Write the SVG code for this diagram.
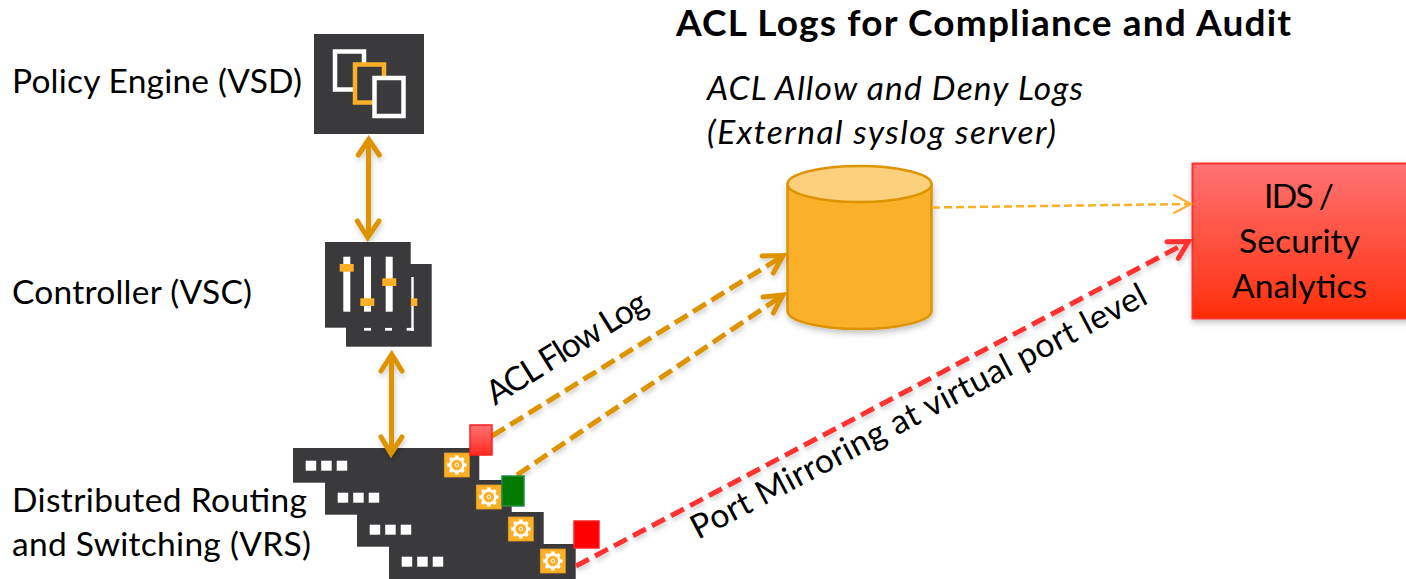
<svg xmlns="http://www.w3.org/2000/svg" xmlns:xlink="http://www.w3.org/1999/xlink" width="1406" height="579" viewBox="0 0 1406 579">
<style>
text{font-family:Lato,"Open Sans","Liberation Sans",sans-serif;fill:#000;font-size:33.5px}
.dark{fill:#3a393b}
.w{fill:#fff}
.o{fill:#fbb027}
.sq{fill:#3a393b;stroke-width:4.5}
.dot{fill:#fff}
.gb{fill:#fbb027;stroke:#e09a20;stroke-width:.8}
.conn{fill:none;stroke-linecap:butt}
.head{fill:none;stroke-linecap:round;stroke-linejoin:miter}
</style>
<defs>
<filter id="sh" x="-30%" y="-30%" width="160%" height="160%"><feDropShadow dx="1" dy="3" stdDeviation="3" flood-color="#000" flood-opacity=".25"/></filter>
<filter id="ln" filterUnits="userSpaceOnUse" x="0" y="0" width="1406" height="579"><feDropShadow dx="1" dy="3" stdDeviation="2.5" flood-color="#000" flood-opacity=".2"/></filter>
<linearGradient id="rg" x1="0" y1="0" x2="0" y2="1"><stop offset="0" stop-color="#ff7272"/><stop offset=".85" stop-color="#ff3a1c"/><stop offset="1" stop-color="#ff2a00"/></linearGradient>
<linearGradient id="tg" x1="0" y1="0" x2="0" y2="1"><stop offset="0" stop-color="#ff7272"/><stop offset="1" stop-color="#ff2a20"/></linearGradient>
<g id="gear">
<rect class="gb" x="0" y="0" width="25" height="24"/>
<g transform="translate(12.5 12)">
<circle r="6.6" fill="none" stroke="#fff" stroke-width="2.6"/>
<circle r="1.8" fill="none" stroke="#fff" stroke-width="1"/>
<g fill="#fff"><rect x="-1.6" y="-9.6" width="3.2" height="3.4"/><rect x="-1.6" y="6.2" width="3.2" height="3.4"/><rect x="-9.6" y="-1.6" width="3.4" height="3.2"/><rect x="6.2" y="-1.6" width="3.4" height="3.2"/><rect x="-1.6" y="-9.6" width="3.2" height="3.4" transform="rotate(45)"/><rect x="-1.6" y="-9.6" width="3.2" height="3.4" transform="rotate(135)"/><rect x="-1.6" y="-9.6" width="3.2" height="3.4" transform="rotate(225)"/><rect x="-1.6" y="-9.6" width="3.2" height="3.4" transform="rotate(315)"/></g>
</g>
</g>
<g id="dots"><rect class="dot" x="0" y="0" width="10.5" height="10"/><rect class="dot" x="15.5" y="0" width="10.5" height="10"/><rect class="dot" x="31" y="0" width="10.5" height="10"/></g>
</defs>

<text x="12" y="93" textLength="290">Policy Engine (VSD)</text>
<text x="12" y="304" textLength="240">Controller (VSC)</text>
<text x="12" y="512" textLength="295">Distributed Routing</text>
<text x="12" y="556" textLength="299">and Switching (VRS)</text>
<text x="676" y="36" style="font-size:37px;font-weight:700" textLength="615">ACL Logs for Compliance and Audit</text>
<text x="707" y="100" font-style="italic" textLength="376">ACL Allow and Deny Logs</text>
<text x="707" y="144" font-style="italic" textLength="349">(External syslog server)</text>

<g id="vsd">
<rect class="dark" x="314" y="34" width="110" height="100"/>
<rect class="sq" x="335" y="51.5" width="29" height="38" stroke="#fff"/>
<rect class="sq" x="355" y="64.5" width="29" height="38" stroke="#fbb027"/>
<rect class="sq" x="374.5" y="78" width="29" height="38" stroke="#fff"/>
</g>

<g id="vsc">
<rect class="dark" x="346" y="264" width="85.7" height="82.7"/>
<rect class="w" x="411.3" y="277" width="2.4" height="54"/>
<rect class="o" x="410.7" y="298.3" width="6.6" height="7.7"/>
<rect class="w" x="364" y="327.7" width="7" height="3"/>
<rect class="w" x="385" y="327.7" width="7" height="3"/>
<rect class="w" x="406.7" y="327.7" width="7" height="3"/>
<rect class="dark" x="325" y="242" width="85.7" height="85.7"/>
<rect class="w" x="343.3" y="256.7" width="7" height="55"/>
<rect class="w" x="364" y="256.7" width="7" height="55"/>
<rect class="w" x="385.7" y="256.7" width="7" height="55"/>
<rect class="o" x="339.7" y="264" width="14" height="7.7"/>
<rect class="o" x="360.3" y="298.3" width="14" height="7.7"/>
<rect class="o" x="382.3" y="278.3" width="14" height="7.7"/>
</g>

<g id="vrs">
<rect class="dark" x="293" y="448" width="186.3" height="34.7"/>
<use xlink:href="#dots" href="#dots" x="305.7" y="460.7"/>
<use xlink:href="#gear" href="#gear" x="444.3" y="453"/>
<rect class="dark" x="325" y="480" width="186.7" height="34.7"/>
<use xlink:href="#dots" href="#dots" x="337.7" y="492.7"/>
<use xlink:href="#gear" href="#gear" x="476.3" y="485"/>
<rect class="dark" x="357" y="512" width="186.7" height="34.7"/>
<use xlink:href="#dots" href="#dots" x="369.7" y="524.7"/>
<use xlink:href="#gear" href="#gear" x="508.3" y="517"/>
<rect class="dark" x="389" y="544" width="186.7" height="35"/>
<use xlink:href="#dots" href="#dots" x="401.7" y="556.7"/>
<use xlink:href="#gear" href="#gear" x="540.3" y="549"/>
</g>

<g id="db">
<path d="M787.5 184V311C787.5 321 820 329 859.5 329S931.5 321 931.5 311V184Z" fill="#fbb02b" stroke="#de9300" stroke-width="2.5" filter="url(#sh)"/>
<ellipse cx="859.5" cy="184" rx="72" ry="18" fill="#fdd07d" stroke="#de9300" stroke-width="2.5"/>
</g>

<g id="ids">
<rect x="1192.5" y="163.5" width="220" height="155" fill="url(#rg)" stroke="#ff3030" stroke-width="2" filter="url(#sh)"/>
<text x="1264" y="208" textLength="70">IDS /</text>
<text x="1239" y="253" textLength="121">Security</text>
<text x="1232" y="298" textLength="135">Analytics</text>
</g>

<g id="connectors">
<g filter="url(#ln)">
<path class="conn" d="M368.5 142V236" stroke="#de9300" stroke-width="5"/>
<path class="head" d="M358.3 155L368.7 139.5L379.3 155M357.3 221L367.7 237.5L379 221" stroke="#de9300" stroke-width="5"/>
<path class="conn" d="M391.5 356V452" stroke="#de9300" stroke-width="5"/>
<path class="head" d="M381 371L391.7 354.5L402 371M381 437L391 453.5L402 437" stroke="#de9300" stroke-width="5"/>
</g>
<g filter="url(#ln)">
<path class="conn" d="M492 436L783 256" stroke="#de9300" stroke-width="5" stroke-dasharray="15 6.5"/>
<path class="head" d="M762 256L783 255.5L773.3 273" stroke="#de9300" stroke-width="5"/>
<path class="conn" d="M517 475L783 295" stroke="#de9300" stroke-width="5" stroke-dasharray="15 6.5"/>
<path class="head" d="M763 297L783 295L773.3 313" stroke="#de9300" stroke-width="5"/>
<path class="conn" d="M576 566L1188 242" stroke="#ff3333" stroke-width="5" stroke-dasharray="14.5 7"/>
<path class="head" d="M1167 241.7L1188.5 241.5L1178.3 258.3" stroke="#ff3333" stroke-width="5"/>
</g>
<path class="conn" d="M932 207.5L1190 204" stroke="#fbb027" stroke-width="2.5" stroke-dasharray="8 4"/>
<path class="head" d="M1174 195L1191 204L1174 213" stroke="#fbb027" stroke-width="2"/>
</g>

<g id="tags">
<rect x="470" y="425" width="22" height="30" fill="url(#tg)" stroke="#ff2020" stroke-width="1.5"/>
<rect x="502" y="476" width="22" height="30" fill="#007a00" stroke="#2a8a4a" stroke-width="1.5"/>
<rect x="574" y="521" width="25" height="27" fill="#ff0000" stroke="#ff2020" stroke-width="1.5"/>
</g>

<text transform="translate(495 406) rotate(-32)" textLength="183">ACL Flow Log</text>
<text transform="translate(698 540) rotate(-27.7)" textLength="510">Port Mirroring at virtual port level</text>
</svg>
